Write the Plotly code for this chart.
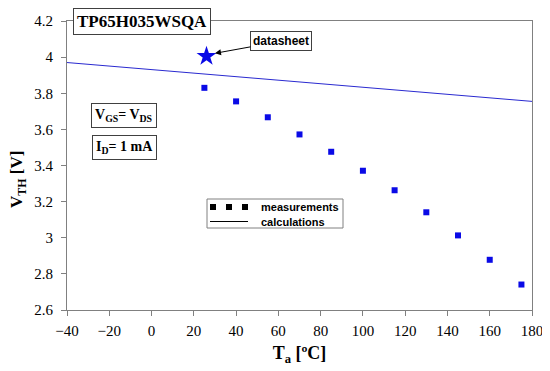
import plotly.graph_objects as go

# ---- data ----
temps_meas = [25, 40, 55, 70, 85, 100, 115, 130, 145, 160, 175]
vth_meas = [3.83, 3.755, 3.667, 3.572, 3.476, 3.371, 3.263, 3.141, 3.013, 2.878, 2.741]
temps_calc = [-40, 180]
vth_calc = [3.97, 3.755]
temps_ds = [26]
vth_ds = [4.005]

x_ticks = [-40, -20, 0, 20, 40, 60, 80, 100, 120, 140, 160, 180]
y_ticks = [2.6, 2.8, 3.0, 3.2, 3.4, 3.6, 3.8, 4.0, 4.2]

OFF = 8  # page body margin
W, H = 550 - OFF, 371 - OFF
L, R, T, B = 67 - OFF, 18, 21 - OFF, 61
PW, PH = W - L - R, H - T - B


def px(xp):
    return (xp - OFF - L) / PW


def py(yp):
    return (H - B - (yp - OFF)) / PH


SERIF = "Liberation Serif"
SANS = "Liberation Sans"
BLUE = "#0a0ae6"

fig = go.Figure()
fig.add_trace(go.Scatter(x=temps_calc, y=vth_calc, mode="lines",
                         line=dict(color="#2a2ad0", width=1), showlegend=False))
fig.add_trace(go.Scatter(x=temps_meas, y=vth_meas, mode="markers",
                         marker=dict(symbol="square", size=6, color=BLUE),
                         showlegend=False))
fig.add_trace(go.Scatter(x=temps_ds, y=vth_ds, mode="markers",
                         marker=dict(symbol="star", size=15, color=BLUE),
                         showlegend=False))

axis_common = dict(showline=True, linecolor="#808080", linewidth=1, mirror=True,
                   ticks="outside", ticklen=5, tickcolor="#808080",
                   showgrid=False, zeroline=False, automargin=False,
                   tickfont=dict(family=SERIF, size=15, color="black"))

fig.update_xaxes(range=[-40, 180], tickvals=x_ticks, **axis_common,
                 ticklabelstandoff=2,
                 title=dict(text="<b>T<sub>a</sub> [ºC]</b>",
                            font=dict(family=SERIF, size=18, color="black"),
                            standoff=8))
fig.update_yaxes(range=[2.6, 4.2], tickvals=y_ticks, **axis_common,
                 ticklabelstandoff=5)


def box(x, y, text, font):
    return dict(x=px(x), y=py(y), xref="paper", yref="paper", showarrow=False,
                xanchor="center", yanchor="middle", text=text, font=font,
                bgcolor="white", bordercolor="#404040", borderwidth=1, borderpad=3)


annotations = [
    dict(x=px(18), y=py(180), xref="paper", yref="paper", showarrow=False,
         xanchor="center", yanchor="middle", textangle=-90,
         text="<b>V<sub>TH</sub> [V]</b>",
         font=dict(family=SERIF, size=17, color="black")),
    box(141.5, 21.5, "<b>TP65H035WSQA</b>", dict(family=SERIF, size=17, color="black")),
    box(124, 115.5, "<b>V<sub>GS</sub>= V<sub>DS</sub></b>",
        dict(family=SERIF, size=14, color="black")),
    box(124.5, 147.5, "<b>I<sub>D</sub>= 1 mA</b>",
        dict(family=SERIF, size=14, color="black")),
    dict(x=px(215), y=py(53.3), xref="paper", yref="paper", showarrow=True,
         xanchor="center", yanchor="middle",
         ax=66, ay=-12, arrowhead=2, arrowsize=1.2, arrowwidth=1, arrowcolor="black",
         text="<b>datasheet</b>", font=dict(family=SANS, size=12, color="black"),
         bgcolor="white", bordercolor="#404040", borderwidth=1, borderpad=2),
    dict(x=px(259), y=py(207), xref="paper", yref="paper", showarrow=False,
         xanchor="left", yanchor="middle", text="<b>measurements</b>",
         font=dict(family=SANS, size=11, color="black")),
    dict(x=px(259), y=py(222), xref="paper", yref="paper", showarrow=False,
         xanchor="left", yanchor="middle", text="<b>calculations</b>",
         font=dict(family=SANS, size=11, color="black")),
]

shapes = [
    dict(type="rect", xref="paper", yref="paper", x0=px(207), x1=px(343),
         y0=py(199), y1=py(228), line=dict(color="#808080", width=1),
         fillcolor="white", layer="below"),
    dict(type="line", xref="paper", yref="paper", x0=px(210), x1=px(248),
         y0=py(221.5), y1=py(221.5), line=dict(color="black", width=1)),
]
for cx in (213, 229, 245):
    shapes.append(dict(type="rect", xref="paper", yref="paper",
                       x0=px(cx - 3), x1=px(cx + 3), y0=py(204), y1=py(210),
                       line=dict(width=0), fillcolor="black"))

fig.update_layout(width=W, height=H, margin=dict(l=L, r=R, t=T, b=B),
                  paper_bgcolor="white", plot_bgcolor="white",
                  annotations=annotations, shapes=shapes, showlegend=False)

fig.write_html("out.html")
